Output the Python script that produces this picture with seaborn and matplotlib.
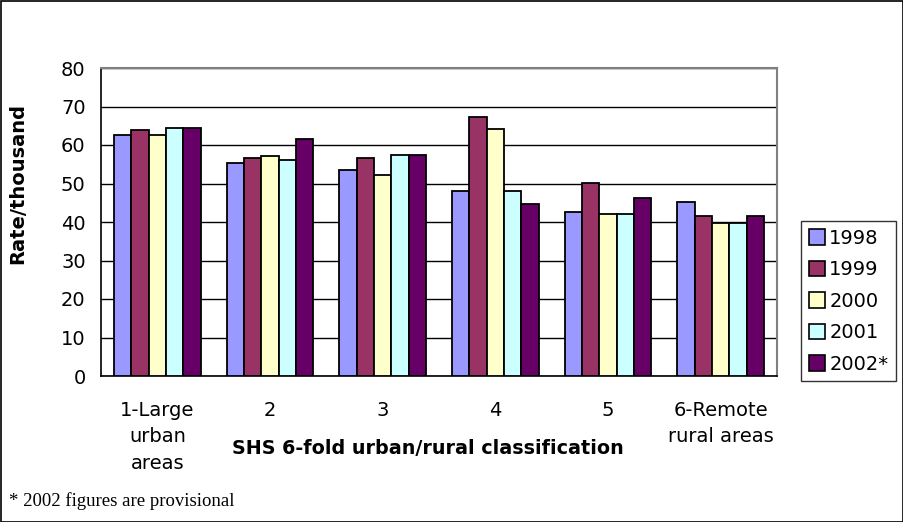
import matplotlib
matplotlib.use("Agg")
import matplotlib.pyplot as plt
import seaborn as sns
import pandas as pd
from matplotlib.patches import Rectangle

categories = ["1-Large\nurban\nareas", "2", "3", "4", "5", "6-Remote\nrural areas"]
years = ["1998", "1999", "2000", "2001", "2002*"]
v1998 = [62.7, 55.4, 53.4, 48.1, 42.5, 45.1]
v1999 = [63.8, 56.5, 56.5, 67.4, 50.2, 41.6]
v2000 = [62.7, 57.1, 52.3, 64.2, 42.0, 39.8]
v2001 = [64.5, 56.0, 57.4, 48.1, 42.0, 39.8]
v2002 = [64.5, 61.6, 57.4, 44.6, 46.2, 41.6]
colors = ["#9999FF", "#993366", "#FFFFCC", "#CCFFFF", "#660066"]

series = [v1998, v1999, v2000, v2001, v2002]
rows = []
for y, vals in zip(years, series):
    for c, v in zip(categories, vals):
        rows.append({"cat": c, "year": y, "val": v})
df = pd.DataFrame(rows)

sns.set_style("white")
plt.rcParams["font.family"] = ["DejaVu Sans"]
plt.rcParams["text.color"] = "black"
plt.rcParams["xtick.color"] = "black"
plt.rcParams["ytick.color"] = "black"
plt.rcParams["axes.labelcolor"] = "black"

W, H = 904, 522
fig = plt.figure(figsize=(W / 100, H / 100), dpi=100)
ax = fig.add_axes([101 / W, 1 - 376 / H, 676 / W, 308 / H])

sns.barplot(data=df, x="cat", y="val", hue="year", order=categories, hue_order=years,
            palette=colors, saturation=1, width=0.77, edgecolor="black", linewidth=1.3,
            ax=ax, legend=False, zorder=3)

ax.set_ylim(0, 80)
ax.set_xlim(-0.5, 5.5)
ax.set_yticks(range(0, 81, 10))
ax.yaxis.grid(True, color="black", linewidth=1.0, zorder=0)
ax.set_axisbelow(True)
ax.tick_params(axis="y", direction="out", length=5, width=1, color="black",
               labelsize=14, pad=6, labelcolor="black")
ax.tick_params(axis="x", which="major", length=0, labelsize=14, pad=18, labelcolor="black")
ax.set_xticks([i - 0.5 for i in range(7)], minor=True)
ax.tick_params(axis="x", which="minor", direction="out", length=5, width=1, color="black")
for lab in ax.get_xticklabels():
    lab.set_linespacing(1.5)
ax.set_xlabel("")
ax.set_ylabel("")

for s in ["left", "bottom"]:
    ax.spines[s].set_color("black")
    ax.spines[s].set_linewidth(1.2)
for s in ["top", "right"]:
    ax.spines[s].set_visible(True)
    ax.spines[s].set_color("#808080")
    ax.spines[s].set_linewidth(1.5)

fig.text(18 / W, 1 - 184 / H, "Rate/thousand", rotation=90, ha="center", va="center",
         fontsize=14, fontweight="bold", color="black")
fig.text(428 / W, 1 - 449 / H, "SHS 6-fold urban/rural classification", ha="center",
         va="center", fontsize=13.8, fontweight="bold", color="black")
fig.text(9 / W, 1 - 501 / H, "* 2002 figures are provisional", ha="left", va="center",
         fontsize=13.5, family=["Liberation Serif"], color="black")

handles = [Rectangle((0, 0), 1, 1, facecolor=c, edgecolor="black", linewidth=1.2) for c in colors]
leg = fig.legend(handles, years, loc="upper left", bbox_to_anchor=(801 / W, 1 - 221 / H),
                 frameon=True, fancybox=False, edgecolor="black", fontsize=14,
                 handlelength=0.85, handleheight=0.85, handletextpad=0.2,
                 labelspacing=0.64, borderpad=0.4, borderaxespad=0)
leg.get_frame().set_linewidth(1.0)
for t in leg.get_texts():
    t.set_color("black")

fig.patches.append(Rectangle((0.5 / W, 0.5 / H), 1 - 1.5 / W, 1 - 1.5 / H,
                             transform=fig.transFigure, fill=False, edgecolor="black",
                             linewidth=1.2))

fig.savefig("out.png", dpi=100)
